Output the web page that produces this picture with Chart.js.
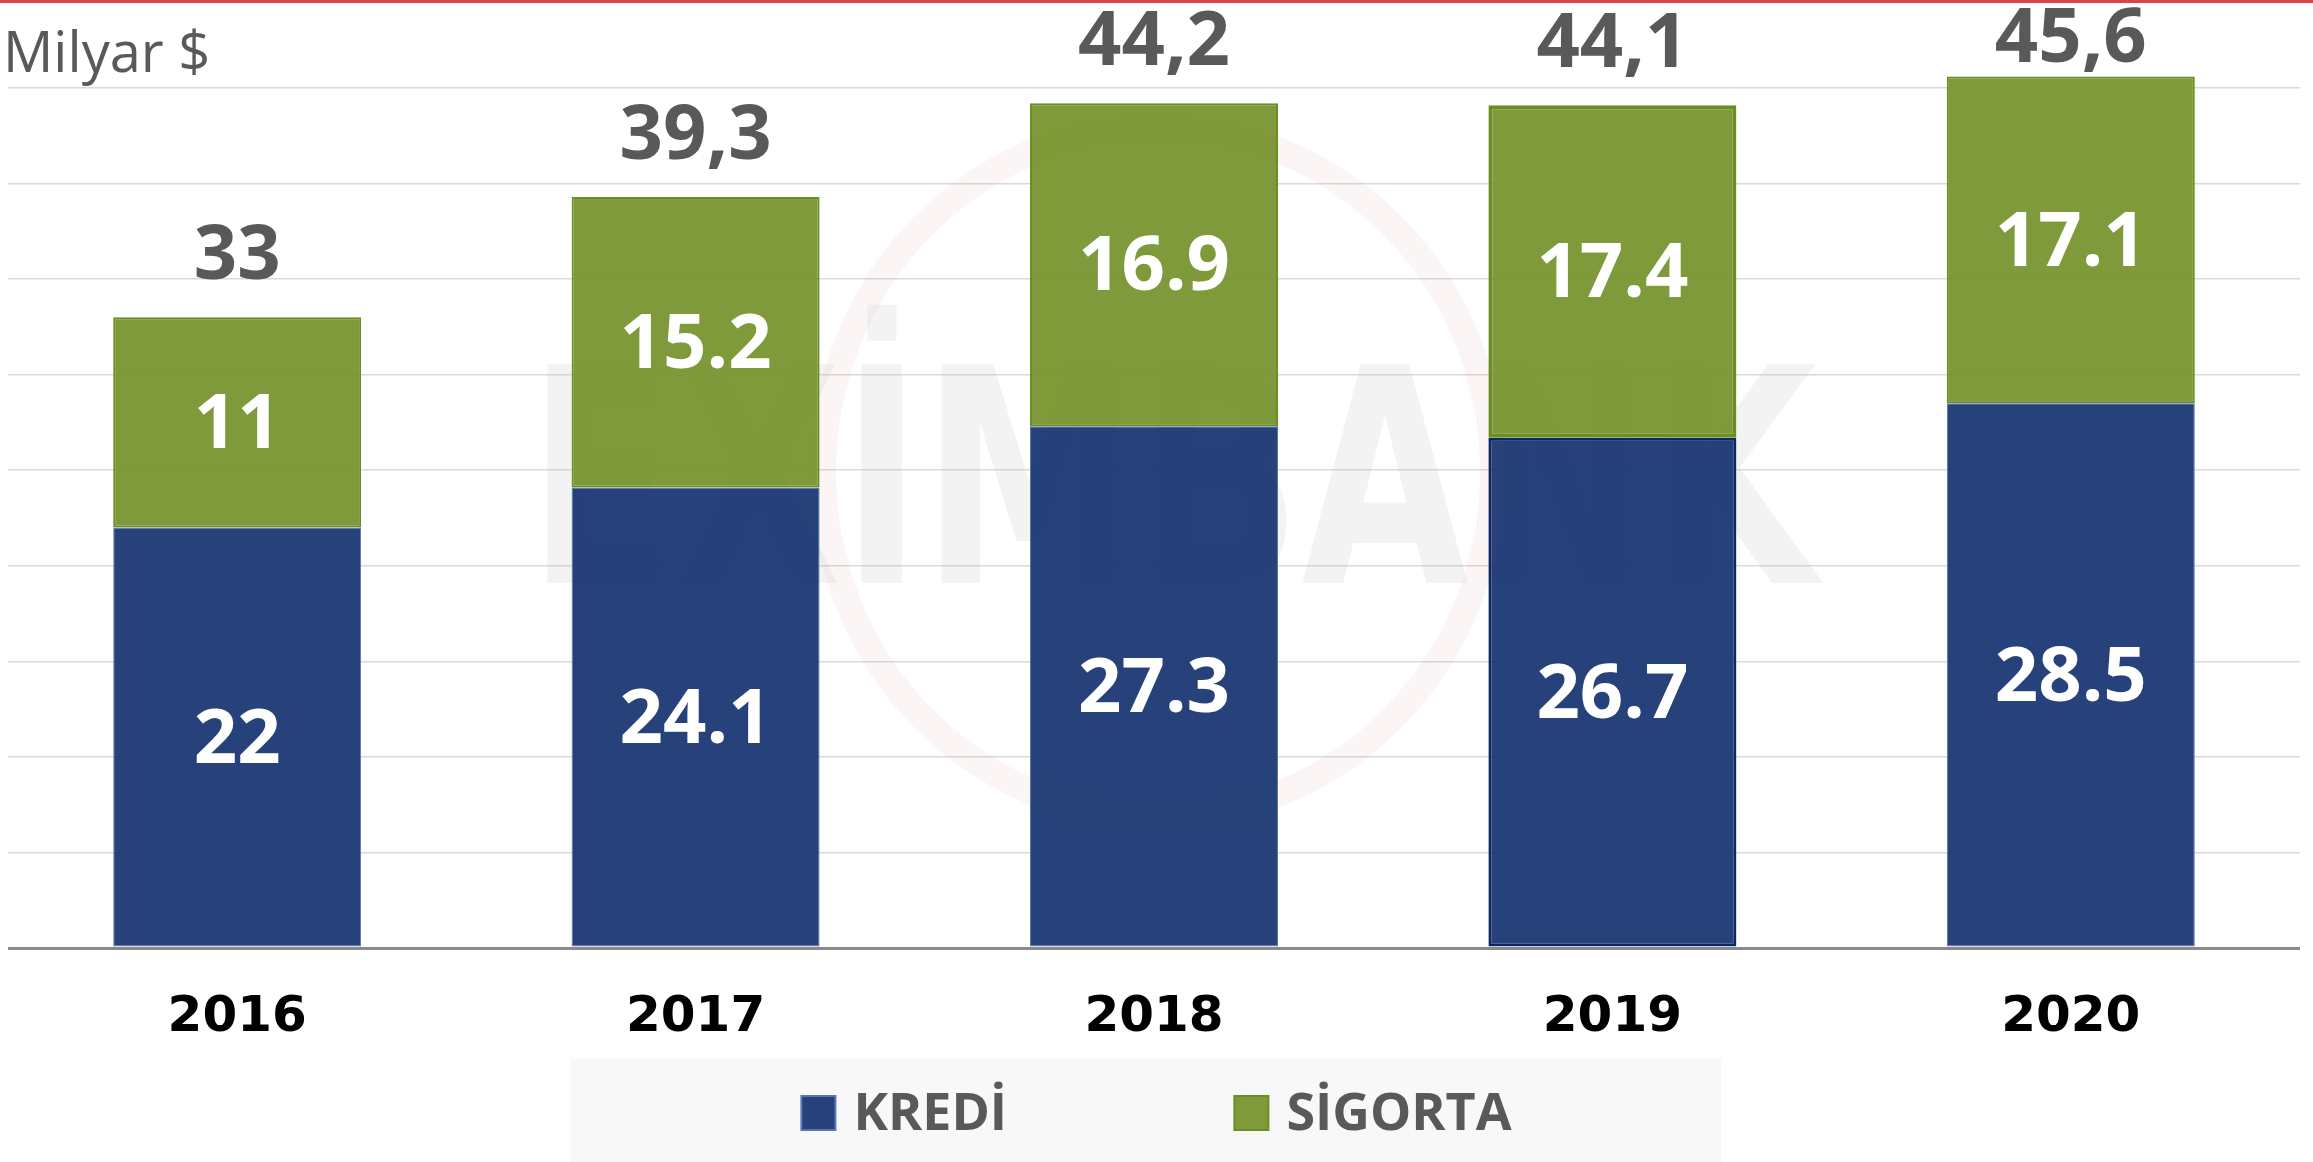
<!DOCTYPE html>
<html>
<head>
<meta charset="utf-8">
<script src="https://cdn.jsdelivr.net/npm/chart.js@4/dist/chart.umd.min.js"></script>
<style>
  html, body { margin: 0; padding: 0; background: #fff; }
  #wrap { width: 2313px; height: 1162px; position: relative; }
</style>
</head>
<body>
<div id="wrap"><canvas id="myChart" width="2313" height="1162"></canvas></div>
<script>
const years = ['2016', '2017', '2018', '2019', '2020'];
const kredi = [22, 24.1, 27.3, 26.7, 28.5];
const sigorta = [11, 15.2, 16.9, 17.4, 17.1];
const totals = ['33', '39,3', '44,2', '44,1', '45,6'];
const seriesNames = ['KREDİ', 'SİGORTA'];
const unitLabel = 'Milyar $';

// light "EXİMBANK" logo behind the bars
const watermark = {
  id: 'watermark',
  beforeDatasetsDraw(chart) {
    const ctx = chart.ctx;
    ctx.save();
    ctx.strokeStyle = 'rgba(215,140,140,0.09)';
    ctx.lineWidth = 26;
    ctx.beginPath();
    ctx.ellipse(1158, 472, 335, 345, 0, 0, Math.PI * 2);
    ctx.stroke();
    ctx.translate(1172, 505);
    ctx.scale(0.72, 1);
    ctx.fillStyle = 'rgba(200,200,200,0.22)';
    ctx.font = 'bold 300px "DejaVu Sans"';
    ctx.textAlign = 'center';
    ctx.textBaseline = 'middle';
    ctx.fillText('EXİMBANK', 0, 0);
    ctx.restore();
  }
};

const labelsPlugin = {
  id: 'labels',
  afterDraw(chart) {
    const ctx = chart.ctx;
    ctx.save();
    // red line at the top
    ctx.fillStyle = '#d9434b';
    ctx.fillRect(0, 0, chart.width, 3);

    // unit label
    ctx.fillStyle = '#595959';
    ctx.font = '56px "Open Sans"';
    ctx.textAlign = 'left';
    ctx.textBaseline = 'alphabetic';
    ctx.fillText(unitLabel, 3, 72);

    // values inside the segments
    ctx.textAlign = 'center';
    ctx.textBaseline = 'middle';
    ctx.font = 'bold 76px "Open Sans"';
    ctx.fillStyle = '#ffffff';
    chart.data.datasets.forEach((ds, di) => {
      chart.getDatasetMeta(di).data.forEach((bar, i) => {
        const mid = (bar.y + bar.base) / 2;
        ctx.fillText(String(ds.data[i]), bar.x, mid + 4);
      });
    });

    // totals above the bars
    ctx.fillStyle = '#595959';
    const top = chart.getDatasetMeta(1).data;
    top.forEach((bar, i) => {
      const y = Math.max(bar.y - 60, 40);
      ctx.fillText(totals[i], bar.x, y);
    });

    // legend
    ctx.fillStyle = '#f8f8f8';
    ctx.fillRect(571, 1059, 1150, 103);
    ctx.font = 'bold 52px "Open Sans"';
    ctx.textAlign = 'left';
    const pitch = 433;
    const w2 = ctx.measureText(seriesNames[1]).width;
    const total = pitch + 52 + w2;
    let x = chart.width / 2 - total / 2;
    const cy = 1113;
    chart.data.datasets.forEach((ds, di) => {
      ctx.fillStyle = ds.legendColor;
      ctx.fillRect(x, cy - 17, 34, 34);
      ctx.strokeStyle = ds.legendBorder;
      ctx.lineWidth = 2;
      ctx.strokeRect(x, cy - 17, 34, 34);
      ctx.fillStyle = '#595959';
      ctx.fillText(seriesNames[di], x + 52, cy + 2);
      x += pitch;
    });
    ctx.restore();
  }
};

new Chart(document.getElementById('myChart'), {
  type: 'bar',
  data: {
    labels: years,
    datasets: [
      {
        label: seriesNames[0],
        data: kredi,
        backgroundColor: 'rgba(27,56,115,0.95)',
        borderColor: ['#5a76ad', '#5a76ad', '#5a76ad', '#0d2766', '#5a76ad'],
        borderWidth: [1, 1, 1, 3, 1],
        borderSkipped: false,
        legendColor: '#27427a',
        legendBorder: '#5a76ad'
      },
      {
        label: seriesNames[1],
        data: sigorta,
        backgroundColor: 'rgba(120,149,48,0.95)',
        borderColor: '#6b8e23',
        borderWidth: [2, 2, 2, 4, 2],
        borderSkipped: false,
        legendColor: '#7f9a3a',
        legendBorder: '#6b8e23'
      }
    ]
  },
  options: {
    responsive: false,
    animation: false,
    layout: { padding: { left: 8, right: 13, top: 2, bottom: 74 } },
    plugins: {
      legend: { display: false },
      tooltip: { enabled: false }
    },
    datasets: {
      bar: { categoryPercentage: 1, barPercentage: 0.541 }
    },
    scales: {
      x: {
        stacked: true,
        grid: { display: false, drawTicks: false },
        border: { display: false },
        ticks: {
          color: '#000000',
          padding: 40,
          font: { family: '"DejaVu Sans"', weight: 'bold', size: 50 }
        }
      },
      y: {
        stacked: true,
        min: 0,
        max: 49.5,
        afterBuildTicks(scale) {
          scale.ticks = scale.ticks.filter(t => t.value % 5 === 0);
        },
        ticks: { display: false, stepSize: 5 },
        border: { display: false },
        grid: {
          drawTicks: false,
          color: c => c.tick && c.tick.value === 0 ? '#8a8a8a' : '#d9d9d9',
          lineWidth: c => c.tick && c.tick.value === 0 ? 3 : 1.5
        }
      }
    }
  },
  plugins: [watermark, labelsPlugin]
});
</script>
</body>
</html>
